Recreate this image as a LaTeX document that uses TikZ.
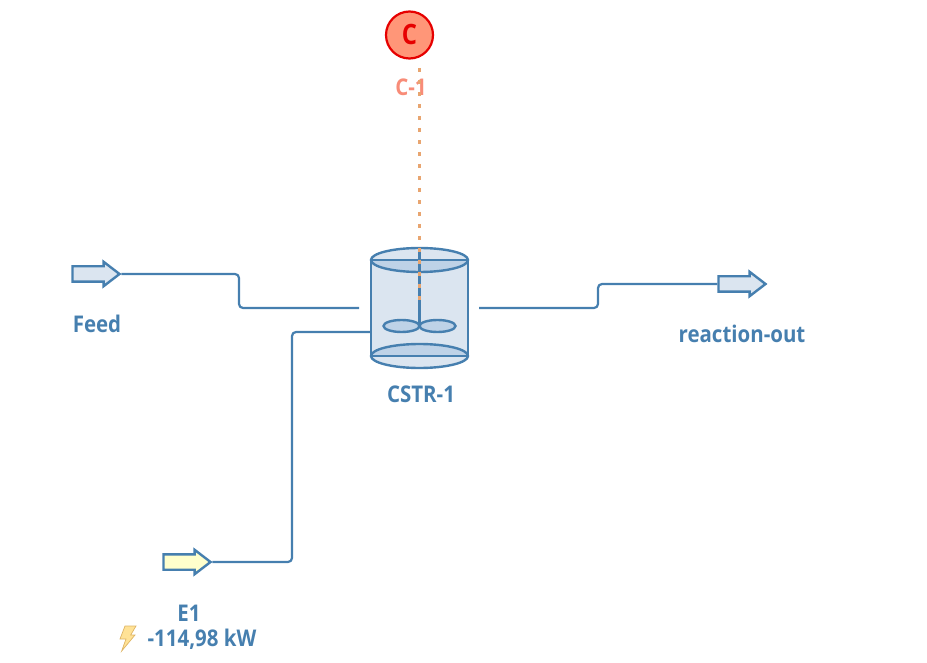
\documentclass[tikz,border=0pt]{standalone}
\usepackage{fontspec}
\setmainfont{Open Sans}
\newfontfamily\lblfont[FakeStretch=0.89]{Open Sans}
\newfontfamily\ctrlfont[FakeStretch=0.85]{Open Sans}
\usetikzlibrary{positioning}
\usetikzlibrary{shapes.arrows}
\definecolor{stream}{RGB}{70,127,175}
\definecolor{vessel}{RGB}{219,229,240}
\definecolor{vesseldark}{RGB}{190,210,231}
\definecolor{energy}{RGB}{255,255,204}
\definecolor{signal}{RGB}{232,165,112}
\definecolor{ctrl}{RGB}{255,150,120}
\definecolor{ctrledge}{RGB}{230,0,0}
\definecolor{ctrltext}{RGB}{248,140,120}
\definecolor{boltfill}{RGB}{255,226,150}
\definecolor{boltedge}{RGB}{222,180,100}
\tikzset{port/.style = {draw = stream, line width = 2.4pt, single arrow, inner sep = 0,
                        text width = 30pt, text height = 13pt, text depth = 0pt,
                        minimum height = 47pt, minimum width = 22pt,
                        single arrow tip angle = 75, single arrow head extend = 4.5pt, anchor = center}}
\tikzset{pipe/.style = {draw = stream, line width = 2.2pt, rounded corners = 4pt}}
\tikzset{wall/.style = {draw = stream, line width = 2.4pt}}
\tikzset{lbl/.style = {text = stream, font = \fontsize{23}{26}\lblfont\bfseries, inner sep = 0}}
\begin{document}
\begin{tikzpicture}[x = 1pt, y = -1pt]
    \useasboundingbox (0, 0) rectangle (927, 663);
    % streams
    \node [port, fill = vessel] (feed) at (91, 274) {};
    \node [port, fill = vessel] (out) at (737, 284) {};
    \node [port, fill = energy] (e1) at (182, 562) {};
    \coordinate (feedend) at (359, 308);
    \coordinate (outstart) at (479, 308);
    \coordinate (e1end) at (374, 332);
    \draw [pipe] (feed.tip) -| (239, 308) -- (feedend);
    \draw [pipe] (outstart) -| (598, 284) -- (out.west);
    \draw [pipe] (e1.tip) -| (292, 332) -- (e1end);
    % reactor
    \coordinate (tl) at (371, 260);
    \coordinate (tr) at (468, 260);
    \coordinate (bl) at (371, 356);
    \coordinate (br) at (468, 356);
    \fill [vessel] (tl) rectangle (br);
    \fill [vessel] (419.5, 260) ellipse (48.5 and 12);
    \fill [vesseldark] (tl) arc (180:0:48.5 and 12) -- cycle;
    \fill [vessel] (419.5, 356) ellipse (48.5 and 12);
    \fill [vesseldark] (bl) arc (-180:0:48.5 and 12) -- cycle;
    \draw [wall] (tl) -- (bl) (tr) -- (br) (tl) -- (tr) (bl) -- (br);
    \draw [wall] (419.5, 260) ellipse (48.5 and 12);
    \draw [wall] (419.5, 356) ellipse (48.5 and 12);
    \draw [wall] (419.5, 248) -- (419.5, 326);
    \draw [wall, fill = vesseldark] (401.5, 326) ellipse (18 and 6);
    \draw [wall, fill = vesseldark] (437.5, 326) ellipse (18 and 6);
    % controller
    \node [circle, draw = ctrledge, fill = ctrl, line width = 2.2pt, minimum size = 47pt,
           inner sep = 0, text = ctrledge, font = \fontsize{28}{30}\ctrlfont\bfseries] (c) at (409.5, 35) {C};
    \node [lbl, text = ctrltext] (cname) at (411, 87) {C-1};
    \coordinate (sigtop) at (419.5, 68);
    \coordinate (sigend) at (419.5, 300);
    \draw [draw = signal, line width = 3pt, dash pattern = on 4.5pt off 7.5pt] (sigtop) -- (sigend);
    % labels
    \node [lbl] (feedname) at (97, 324) {Feed};
    \node [lbl] (outname) at (742, 334) {reaction-out};
    \node [lbl] (cstrname) at (421, 394) {CSTR-1};
    \node [lbl] (e1name) at (189, 613) {E1};
    \node [lbl] (e1duty) at (202, 639) {-114,98 kW};
    \draw [draw = boltedge, fill = boltfill, line width = 0.7pt]
        (125, 626) -- (136, 626) -- (130.7, 635) -- (135, 635) -- (121.7, 651) -- (126, 639) -- (120, 639) -- cycle;
\end{tikzpicture}
\end{document}
